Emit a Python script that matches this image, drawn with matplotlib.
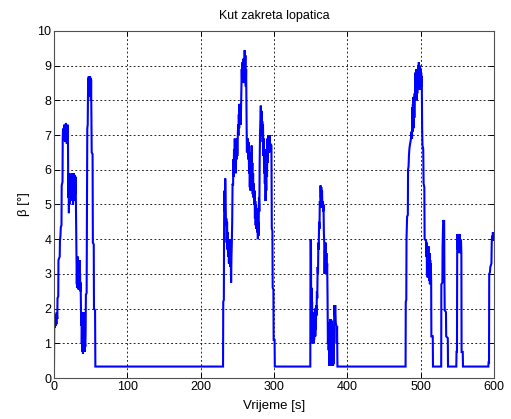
import matplotlib
matplotlib.use("Agg")
import matplotlib.pyplot as plt
import numpy as np

plt.rcParams['font.family'] = ['Liberation Sans', 'DejaVu Sans']

# (time [s], beta [deg]), one list per active interval
seg_a = [(0, 0.35), (0.3, 1.6), (0.8, 1.85), (1.3, 1.45), (1.8, 1.8), (2.3, 1.5), (2.8, 1.75),
         (3.3, 1.55), (3.8, 1.9), (4.5, 1.7), (4.8, 2.3), (5.8, 2.35), (6.1, 3.4), (7.8, 3.5),
         (8.1, 3.95), (8.8, 4.1), (9.3, 4.35), (10.2, 4.4), (10.5, 5.55), (11.6, 5.65),
         (11.9, 6.9), (12.3, 7.15), (12.7, 6.85), (13.1, 7.2), (13.5, 6.95), (13.9, 7.3),
         (14.3, 6.9), (14.7, 7.25), (15.1, 6.8), (15.5, 7.2), (15.9, 7.05), (16.3, 7.35),
         (16.7, 6.9), (17.1, 7.2), (17.5, 6.75), (17.9, 7.1), (18.3, 6.85), (18.7, 7.3),
         (19.1, 6.6), (19.5, 5.2), (19.9, 5.9), (20.3, 4.75), (20.7, 5.5), (21.1, 5.0),
         (21.5, 5.85), (21.9, 5.3), (22.3, 5.8), (22.7, 5.1), (23.1, 5.55), (23.5, 5.25),
         (23.9, 5.9), (24.3, 5.4), (24.7, 5.8), (25.1, 5.2), (25.5, 5.6), (25.9, 5.0),
         (26.3, 5.5), (26.7, 5.2), (27.1, 5.9), (27.5, 5.45), (27.9, 5.85), (28.3, 5.1),
         (28.7, 5.7), (29.1, 5.3), (29.5, 5.8), (29.9, 4.9), (30.3, 4.0), (30.7, 3.4),
         (31.1, 2.7), (31.5, 3.3), (31.9, 2.6), (32.3, 3.5), (32.7, 2.8), (33.1, 3.2),
         (33.5, 2.55), (33.9, 3.1), (34.3, 2.7), (34.7, 3.4), (35.1, 2.6), (35.5, 3.0),
         (35.9, 2.5), (36.3, 2.75), (36.7, 2.0), (37.1, 1.5), (37.5, 1.9), (37.9, 1.0),
         (38.3, 1.6), (38.7, 0.75), (39.1, 1.4), (39.5, 0.7), (39.9, 1.2), (40.3, 0.8),
         (40.7, 1.9), (41.1, 0.85), (41.5, 1.3), (41.9, 0.75), (42.3, 1.0), (42.7, 0.9),
         (43.1, 1.3), (43.5, 2.4), (44.5, 2.45), (45.0, 5.5), (45.4, 7.2), (46.0, 7.3),
         (46.3, 8.1), (46.7, 8.65), (47.1, 8.3), (47.5, 8.7), (47.9, 8.2), (48.3, 8.65),
         (48.7, 8.1), (49.1, 8.7), (49.5, 8.4), (49.9, 8.65), (50.3, 8.0), (50.6, 8.6),
         (51.0, 7.5), (51.4, 6.5), (52.6, 6.45), (53.0, 3.9), (54.2, 3.85), (54.5, 2.0),
         (56.0, 1.95), (56.4, 0.33)]

seg_b = [(230.5, 0.33), (230.8, 2.2), (231.6, 2.25), (232.0, 4.6), (232.5, 5.4), (233.0, 4.8),
         (233.5, 5.75), (234.0, 5.2), (234.5, 4.4), (235.0, 4.6), (235.5, 3.9), (236.0, 4.5),
         (236.5, 3.7), (237.0, 4.2), (237.5, 3.5), (238.0, 3.9), (238.5, 3.3), (239.0, 3.8),
         (239.5, 3.4), (240.0, 4.0), (240.5, 3.2), (241.0, 3.6), (241.5, 2.75), (242.0, 3.5),
         (242.5, 3.9), (243.0, 4.5), (243.5, 5.6), (244.2, 5.55), (244.6, 6.3), (245.0, 5.8),
         (245.5, 6.6), (246.0, 6.0), (246.5, 6.9), (247.0, 6.2), (247.5, 6.7), (248.0, 5.9),
         (248.5, 6.8), (249.0, 6.3), (249.5, 6.9), (250.0, 6.4), (250.5, 6.85), (251.0, 7.3),
         (251.5, 7.0), (252.0, 7.6), (252.5, 7.2), (253.0, 7.9), (253.5, 7.4), (254.0, 7.85),
         (254.5, 7.3), (255.0, 7.7), (255.5, 8.3), (256.0, 8.9), (256.5, 8.5), (257.0, 9.1),
         (257.5, 8.7), (258.0, 9.2), (258.5, 8.6), (259.0, 9.0), (259.5, 8.5), (260.0, 9.45),
         (260.5, 8.8), (261.0, 9.3), (261.5, 8.4), (262.0, 8.9), (262.5, 7.6), (263.0, 6.5),
         (264.0, 6.6), (264.5, 6.9), (265.0, 6.3), (265.5, 6.8), (266.0, 5.9), (266.5, 6.5),
         (267.0, 5.5), (267.5, 6.2), (268.0, 5.4), (268.5, 6.0), (269.0, 5.6), (269.5, 6.7),
         (270.0, 5.8), (270.5, 6.2), (271.0, 5.3), (271.5, 5.9), (272.0, 5.2), (272.5, 5.6),
         (273.0, 5.0), (273.5, 5.4), (274.0, 4.6), (274.5, 5.1), (275.0, 4.4), (275.5, 5.0),
         (276.0, 4.3), (276.5, 4.9), (277.0, 4.2), (277.5, 4.6), (278.0, 4.0), (278.5, 4.5),
         (279.0, 4.1), (279.5, 5.2), (280.0, 4.8), (280.5, 6.3), (281.0, 7.1), (281.5, 7.5),
         (282.0, 7.85), (282.5, 7.3), (283.0, 7.7), (283.5, 7.0), (284.0, 7.4), (284.5, 6.8),
         (285.0, 7.3), (285.5, 6.4), (286.0, 6.9), (286.5, 5.9), (287.0, 6.6), (287.5, 5.6),
         (288.0, 6.3), (288.5, 5.1), (289.0, 5.9), (289.5, 5.4), (290.0, 6.5), (290.5, 5.8),
         (291.0, 6.9), (291.5, 6.2), (292.0, 7.0), (292.5, 6.5), (293.0, 6.8), (293.5, 6.5),
         (294.0, 7.0), (294.5, 6.6), (295.0, 6.75), (296.5, 6.7), (297.0, 4.3), (297.8, 4.25),
         (298.2, 2.6), (299.2, 2.55), (299.5, 1.1), (300.8, 1.1), (301.1, 0.33)]

seg_c = [(349.5, 0.33), (349.8, 4.0), (350.4, 3.95), (350.7, 2.0), (351.1, 2.6), (351.5, 1.3),
         (351.9, 2.2), (352.3, 1.0), (352.7, 1.8), (353.1, 1.1), (353.5, 1.6), (353.9, 1.0),
         (354.3, 1.4), (354.7, 1.1), (355.1, 1.9), (355.5, 1.3), (355.9, 2.0), (356.3, 1.2),
         (356.7, 1.7), (357.1, 1.4), (357.5, 2.1), (358.0, 1.8), (358.5, 2.5), (359.0, 2.3),
         (359.5, 3.2), (360.0, 3.0), (360.5, 3.9), (361.0, 3.7), (361.5, 4.5), (362.0, 4.3),
         (362.5, 5.1), (363.0, 4.9), (363.5, 5.55), (364.0, 5.2), (364.5, 5.5), (365.0, 5.0),
         (365.5, 5.4), (366.0, 4.9), (366.5, 5.1), (367.0, 4.8), (367.5, 5.0), (368.0, 4.2),
         (368.5, 3.9), (369.0, 3.0), (369.5, 3.7), (370.0, 3.1), (370.5, 3.9), (371.0, 3.2),
         (371.5, 3.6), (372.0, 3.0), (372.5, 3.3), (373.0, 2.4), (373.5, 1.0), (374.0, 1.4),
         (374.5, 0.8), (375.0, 1.2), (375.5, 0.35), (376.0, 1.6), (376.5, 0.4), (377.0, 1.7),
         (377.5, 0.35), (378.0, 1.4), (378.5, 0.5), (379.0, 1.65), (379.5, 0.4), (380.0, 1.2),
         (380.5, 0.35), (381.0, 1.5), (381.5, 0.4), (382.2, 2.1), (383.0, 1.8), (383.5, 2.1),
         (384.2, 1.6), (385.0, 1.5), (385.5, 1.0), (386.0, 1.5), (386.5, 0.33)]

seg_d = [(479.4, 0.33), (479.7, 2.2), (480.4, 2.25), (480.7, 4.0), (481.5, 4.65), (482.5, 4.7),
         (482.8, 6.0), (483.5, 6.1), (484.0, 6.4), (484.6, 6.6), (485.2, 6.7), (486.0, 6.8),
         (486.8, 6.9), (487.5, 7.1), (488.2, 6.9), (488.6, 7.8), (489.0, 7.1), (489.4, 7.9),
         (489.8, 7.3), (490.2, 8.1), (490.6, 7.2), (491.0, 8.0), (491.4, 7.5), (491.8, 8.2),
         (492.2, 8.0), (492.6, 8.8), (493.0, 8.1), (493.4, 8.7), (493.8, 8.3), (494.2, 8.9),
         (494.6, 8.0), (495.0, 8.6), (495.4, 8.2), (495.8, 8.9), (496.3, 8.4), (496.7, 9.0),
         (497.1, 8.5), (497.5, 9.1), (497.9, 8.3), (498.3, 8.9), (498.7, 8.4), (499.1, 9.0),
         (499.5, 8.5), (499.9, 8.9), (500.3, 8.3), (500.7, 8.8), (501.1, 8.4), (501.5, 8.7),
         (502.0, 7.2), (502.5, 6.7), (503.5, 6.6), (504.0, 5.6), (505.0, 5.5), (505.4, 4.0),
         (507.5, 3.95), (507.8, 3.5), (508.2, 3.9), (508.6, 3.0), (509.0, 3.7), (509.4, 2.9),
         (509.8, 3.6), (510.2, 3.1), (510.6, 3.8), (511.0, 2.9), (511.4, 3.5), (511.8, 2.8),
         (512.2, 3.6), (512.6, 2.7), (513.0, 3.4), (513.4, 2.8), (513.8, 3.3), (514.3, 2.8),
         (514.6, 1.2), (516.5, 1.2), (516.8, 0.33)]

seg_e = [(528.0, 0.33), (528.2, 2.7), (529.6, 2.75), (529.9, 3.8), (530.3, 4.2), (530.7, 4.55),
         (531.5, 4.5), (532.0, 4.55), (532.4, 2.8), (532.8, 1.95), (534.5, 1.9), (534.8, 1.2),
         (537.0, 1.15), (537.3, 0.33)]

seg_f = [(548.6, 0.33), (548.9, 0.75), (549.5, 0.75), (549.8, 3.6), (550.2, 4.15), (550.6, 3.7),
         (551.0, 4.1), (551.4, 3.6), (551.8, 4.15), (552.2, 3.65), (552.6, 4.1), (553.0, 3.6),
         (553.4, 4.15), (553.8, 3.7), (554.2, 4.0), (554.6, 3.6), (555.0, 3.95), (555.5, 3.6),
         (555.8, 0.75), (557.4, 0.75), (557.7, 0.33)]

seg_g = [(592.3, 0.33), (592.6, 0.45), (593.2, 0.45), (593.5, 3.0), (594.5, 3.05), (595.0, 3.2),
         (596.5, 3.3), (596.9, 3.9), (597.5, 4.1), (598.0, 3.95), (598.5, 4.2), (599.0, 4.0),
         (599.5, 4.2), (600.0, 4.15)]

x_ticks = [0, 100, 200, 300, 400, 500, 600]
y_ticks = list(range(0, 11))

points = seg_a + seg_b + seg_c + seg_d + seg_e + seg_f + seg_g
t = np.array([p[0] for p in points])
beta = np.array([p[1] for p in points])

fig = plt.figure(figsize=(5.11, 4.19), dpi=100)
fig.patch.set_facecolor('white')
ax = fig.add_axes([54/511, 1 - 378/419, 440/511, 347/419])

ax.plot(t, beta, color=(0, 0, 1), lw=1.5, solid_joinstyle='miter')

ax.set_xlim(0, 600)
ax.set_ylim(0, 10)
ax.set_xticks(x_ticks)
ax.set_yticks(y_ticks)
ax.grid(True, color='black', linestyle=(0, (2.2, 2.8)), linewidth=0.6)
ax.set_axisbelow(True)

for s in ax.spines.values():
    s.set_color('#505050')
    s.set_linewidth(0.8)
ax.tick_params(direction='in', length=3.8, width=0.7, color='black',
               top=True, right=True, labelsize=9, pad=2)

ax.set_title('Kut zakreta lopatica', fontsize=9, pad=9)
ax.set_xlabel('Vrijeme [s]', fontsize=9.5, labelpad=5)
ax.set_ylabel('β [°]', fontsize=9.5, labelpad=5)

fig.savefig('out.png', dpi=100, facecolor='white')
